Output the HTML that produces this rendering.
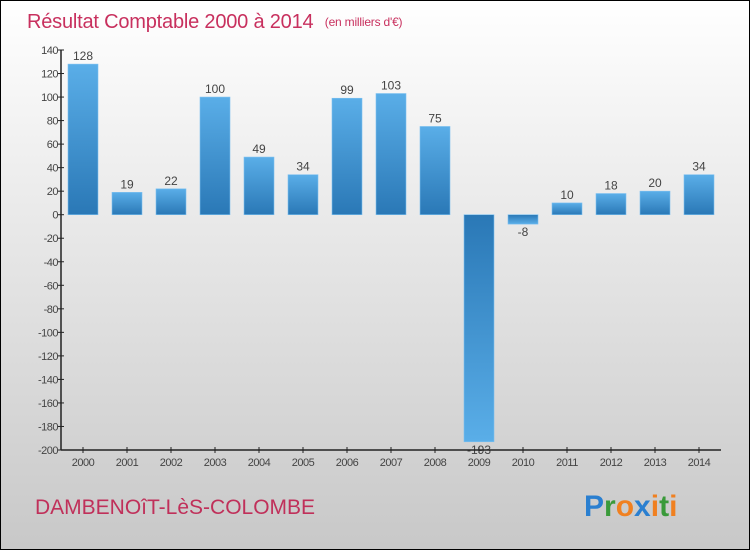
<!DOCTYPE html>
<html><head><meta charset="utf-8"><style>
body{margin:0}
svg{display:block;font-family:"Liberation Sans",sans-serif}
</style></head><body>
<svg id="c" width="750" height="550" xmlns="http://www.w3.org/2000/svg">
<defs>
<linearGradient id="bg" x1="0" y1="0" x2="0" y2="1"><stop offset="0" stop-color="#ffffff"/><stop offset="1" stop-color="#c8c8c8"/></linearGradient>
<linearGradient id="gp" x1="0" y1="0" x2="0" y2="1"><stop offset="0" stop-color="#5aaee8"/><stop offset="1" stop-color="#2a78b6"/></linearGradient>
<linearGradient id="gn" x1="0" y1="0" x2="0" y2="1"><stop offset="0" stop-color="#2a78b6"/><stop offset="1" stop-color="#5aaee8"/></linearGradient>
</defs>
<rect x="0.5" y="0.5" width="749" height="549" fill="url(#bg)" stroke="#000"/>
<text x="27" y="28" font-size="20" fill="#c8305e" letter-spacing="-0.2">Résultat Comptable 2000 à 2014 <tspan font-size="12" dx="6" dy="-2">(en milliers d'€)</tspan></text>
<text x="35" y="514" font-size="21" fill="#c0305a" letter-spacing="0">DAMBENOîT-LèS-COLOMBE</text>
<text x="584" y="516" font-size="30" font-weight="bold"><tspan fill="#2a7fd0">P</tspan><tspan fill="#3a9a3a">r</tspan><tspan fill="#f08020">o</tspan><tspan fill="#2a7fd0">x</tspan><tspan fill="#f08020">i</tspan><tspan fill="#3a9a3a">t</tspan><tspan fill="#f08020">i</tspan></text>
<g id="plot"></g>
</svg>
<script>
const categories=["2000","2001","2002","2003","2004","2005","2006","2007","2008","2009","2010","2011","2012","2013","2014"];
const values=[128,19,22,100,49,34,99,103,75,-193,-8,10,18,20,34];
const yTicks=[140,120,100,80,60,40,20,0,-20,-40,-60,-80,-100,-120,-140,-160,-180,-200];
const yMin=-200,yMax=140,plotTop=50,plotBot=450,x0=61,x1=721;
const yS=v=>plotBot-(v-yMin)*(plotBot-plotTop)/(yMax-yMin);
const xS=i=>83+i*44;
const NS="http://www.w3.org/2000/svg";
const g=document.getElementById('plot');
function mk(t,a,txt){const e=document.createElementNS(NS,t);for(const k in a)e.setAttribute(k,a[k]);if(txt!=null)e.textContent=txt;g.appendChild(e);return e;}
yTicks.forEach(v=>{
 const l=mk('line',{x1:x0-3,x2:x0+3,y1:yS(v),y2:yS(v),stroke:'#222'});
 
 
 const t=mk('text',{x:x0-3,y:yS(v)+4,'text-anchor':'end','font-size':11,fill:'#444','letter-spacing':'-0.5'},v);
 
 
});
values.forEach((v,i)=>{
 const cx=xS(i),w=30,y0=yS(0),yv=yS(v);
 const r=mk('rect',{x:cx-w/2,y:Math.min(y0,yv),width:w,height:Math.abs(yv-y0),fill:v>=0?'url(#gp)':'url(#gn)',stroke:'#7cc0f0','stroke-width':0.6});
 
 
 const t=mk('text',{x:cx,y:v>=0?yv-4:yv+12,'text-anchor':'middle','font-size':12,fill:'#444'},v);
 
 
 const tk=mk('line',{x1:cx,x2:cx,y1:plotBot-3,y2:plotBot+3,stroke:'#222'});
 
 
 const xl=mk('text',{x:cx,y:plotBot+16,'text-anchor':'middle','font-size':11,fill:'#444','letter-spacing':'-0.5'},categories[i]);
 
 
});
const ya=mk('line',{x1:x0,x2:x0,y1:plotTop,y2:plotBot,stroke:'#222','stroke-width':1.5});


const xa=mk('line',{x1:x0,x2:x1,y1:plotBot,y2:plotBot,stroke:'#222','stroke-width':1.5});


</script>
</body></html>
